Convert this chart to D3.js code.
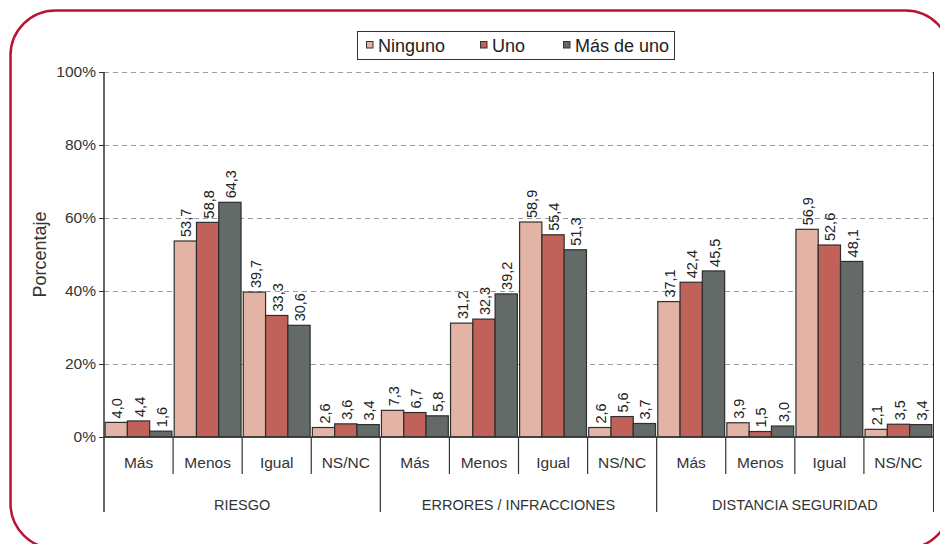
<!DOCTYPE html>
<html>
<head>
<meta charset="utf-8">
<script src="https://cdn.jsdelivr.net/npm/d3@7/dist/d3.min.js"></script>
<style>
  html, body { margin: 0; padding: 0; background: #fff; }
  svg { display: block; font-family: "Liberation Sans", Arial, Helvetica, sans-serif; }
</style>
</head>
<body>
<svg id="chart" width="940" height="544"></svg>
<script>
// Groups and their answer categories
const groups = ["RIESGO", "ERRORES / INFRACCIONES", "DISTANCIA SEGURIDAD"];
const categories = ["Más", "Menos", "Igual", "NS/NC"];
const series = ["Ninguno", "Uno", "Más de uno"];
const yTicks = [0, 20, 40, 60, 80, 100];

// Values per series, in order: group × category
const ninguno  = [4.0, 53.7, 39.7, 2.6,  7.3, 31.2, 58.9, 2.6,  37.1, 3.9, 56.9, 2.1];
const uno      = [4.4, 58.8, 33.3, 3.6,  6.7, 32.3, 55.4, 5.6,  42.4, 1.5, 52.6, 3.5];
const masDeUno = [1.6, 64.3, 30.6, 3.4,  5.8, 39.2, 51.3, 3.7,  45.5, 3.0, 48.1, 3.4];

const colors = ["#e3b4a6", "#c0615a", "#636a68"];
const seriesValues = [ninguno, uno, masDeUno];

// Flat list of slots (one per group/category pair)
const slots = [];
groups.forEach((g, gi) => categories.forEach((c, ci) => slots.push({ key: gi + "-" + ci, group: g, cat: c, gi })));

const svg = d3.select("#chart");
const pLeft = 104, pRight = 933, pTop = 72, pBottom = 437;

const x0 = d3.scaleBand().domain(slots.map(d => d.key)).range([pLeft, pRight]).padding(0);
const x1 = d3.scaleBand().domain(series).range([0, x0.bandwidth()]).paddingInner(0).paddingOuter(0.05);
const y = d3.scaleLinear().domain([0, 100]).range([pBottom, pTop]);

const fmt = v => d3.format(".1f")(v).replace(".", ",");

// Rounded frame
svg.append("rect")
  .attr("x", 10.5).attr("y", 10.5).attr("width", 940).attr("height", 538)
  .attr("rx", 45).attr("ry", 45)
  .attr("fill", "none").attr("stroke", "#b8152f").attr("stroke-width", 2.5);

// Grid lines
svg.append("g").selectAll("line")
  .data(yTicks.filter(t => t > 0))
  .join("line")
  .attr("x1", pLeft).attr("x2", pRight)
  .attr("y1", d => Math.round(y(d)) + 0.5).attr("y2", d => Math.round(y(d)) + 0.5)
  .attr("stroke", "#9a9e9e").attr("stroke-width", 1).attr("stroke-dasharray", "5,4");

// Right frame line of the plot
svg.append("line")
  .attr("x1", pRight + 0.5).attr("x2", pRight + 0.5).attr("y1", pTop).attr("y2", 512)
  .attr("stroke", "#333").attr("stroke-width", 1);

// Bars
const barG = svg.append("g");
slots.forEach((s, i) => {
  series.forEach((name, si) => {
    const v = seriesValues[si][i];
    const bx = x0(s.key) + x1(name);
    barG.append("rect")
      .attr("x", bx).attr("y", y(v))
      .attr("width", x1.bandwidth()).attr("height", pBottom - y(v))
      .attr("fill", colors[si]).attr("stroke", "#2e2e2e").attr("stroke-width", 1.2);
    barG.append("text")
      .attr("transform", `translate(${bx + x1.bandwidth() / 2 + 1},${y(v) - 4}) rotate(-90)`)
      .attr("dy", "0.35em")
      .attr("font-size", 14.5).attr("fill", "#222")
      .text(fmt(v));
  });
});

// Y axis
const yAxis = d3.axisLeft(y).tickValues(yTicks).tickFormat(d => d + "%").tickSize(5).tickPadding(3);
const yg = svg.append("g").attr("transform", `translate(${pLeft},0)`).call(yAxis);
yg.select(".domain").remove();
yg.selectAll(".tick line").attr("stroke", "#333");
yg.selectAll(".tick text").attr("font-size", 15.5).attr("fill", "#333").attr("font-family", "inherit");
svg.append("line")
  .attr("x1", pLeft).attr("x2", pLeft).attr("y1", pTop).attr("y2", 512)
  .attr("stroke", "#333").attr("stroke-width", 1.5);

// Baseline
svg.append("line")
  .attr("x1", pLeft).attr("x2", pRight).attr("y1", pBottom).attr("y2", pBottom)
  .attr("stroke", "#333").attr("stroke-width", 1.5);

// Category separators and labels
const catG = svg.append("g");
slots.forEach((s, i) => {
  const xs = x0(s.key);
  if (i > 0) {
    const isGroupEdge = i % categories.length === 0;
    catG.append("line")
      .attr("x1", xs).attr("x2", xs).attr("y1", pBottom).attr("y2", isGroupEdge ? 512 : 474)
      .attr("stroke", "#333").attr("stroke-width", 1.2);
  }
  catG.append("text")
    .attr("x", xs + x0.bandwidth() / 2).attr("y", 468)
    .attr("text-anchor", "middle").attr("font-size", 15.5).attr("fill", "#333")
    .text(s.cat);
});

// Group labels
groups.forEach((g, gi) => {
  const first = x0(gi + "-0");
  const last = x0(gi + "-" + (categories.length - 1)) + x0.bandwidth();
  svg.append("text")
    .attr("x", (first + last) / 2).attr("y", 510)
    .attr("text-anchor", "middle").attr("font-size", 14.5).attr("fill", "#333")
    .text(g);
});

// Y axis title
svg.append("text")
  .attr("transform", `translate(46,${(pTop + pBottom) / 2}) rotate(-90)`)
  .attr("text-anchor", "middle").attr("font-size", 18).attr("fill", "#333")
  .text("Porcentaje");

// Legend
const legend = svg.append("g");
legend.append("rect")
  .attr("x", 357.5).attr("y", 31.5).attr("width", 317).attr("height", 28)
  .attr("fill", "#fff").attr("stroke", "#333").attr("stroke-width", 1);
const legendX = [366, 480, 563];
series.forEach((name, si) => {
  legend.append("rect")
    .attr("x", legendX[si] + 0.5).attr("y", 41.5).attr("width", 6.5).attr("height", 6.5)
    .attr("fill", colors[si]).attr("stroke", "#333").attr("stroke-width", 1);
  legend.append("text")
    .attr("x", legendX[si] + 12).attr("y", 52)
    .attr("font-size", 18).attr("fill", "#222")
    .text(name);
});
</script>
</body>
</html>
